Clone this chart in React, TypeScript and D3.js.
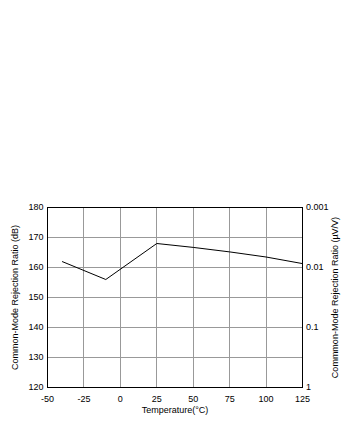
import React from "react";
import * as d3 from "d3";

const temps = [-40, -10, 25, 50, 75, 100, 125];
const cmrrDb = [162, 156, 168, 166.7, 165.2, 163.5, 161.3];
const xTicks = [-50, -25, 0, 25, 50, 75, 100, 125];
const yTicks = [120, 130, 140, 150, 160, 170, 180];
const rightTicks = [1, 0.1, 0.01, 0.001];
const rightTickLabels = ["1", "0.1", "0.01", "0.001"];

export default function App() {
  const W = 360, H = 428;
  const left = 47.5, right = 302.5, top = 207.5, bottom = 387.5;
  const x = d3.scaleLinear().domain([-50, 125]).range([left, right]);
  const y = d3.scaleLinear().domain([120, 180]).range([bottom, top]);
  const yR = d3.scaleLog().domain([1, 0.001]).range([bottom, top]);
  const crisp = (v: number) => Math.round(v - 0.5) + 0.5;
  const line = d3.line<number>().x((_, i) => x(temps[i])).y((d) => y(d));
  const font = "'Liberation Sans', Arial, sans-serif";
  return (
    <svg width={W} height={H} style={{ position: "absolute", left: 0, top: 0 }} fontFamily={font} fontSize={9}>
      <rect x={0} y={0} width={W} height={H} fill="#fff" />
      {xTicks.slice(1, -1).map((t) => (
        <line key={"gx" + t} x1={crisp(x(t))} x2={crisp(x(t))} y1={top} y2={bottom} stroke="#999" strokeWidth={1} />
      ))}
      {yTicks.slice(1, -1).map((t) => (
        <line key={"gy" + t} x1={left} x2={right} y1={crisp(y(t))} y2={crisp(y(t))} stroke="#999" strokeWidth={1} />
      ))}
      <rect x={left} y={top} width={right - left} height={bottom - top} fill="none" stroke="#000" strokeWidth={1} />
      <path d={line(cmrrDb) || ""} fill="none" stroke="#000" strokeWidth={1} />
      {xTicks.map((t) => (
        <text key={"tx" + t} x={x(t)} y={402} textAnchor="middle" fill="#000">{t}</text>
      ))}
      {yTicks.map((t) => (
        <text key={"ty" + t} x={43.5} y={y(t)} textAnchor="end" dominantBaseline="middle" fill="#000">{t}</text>
      ))}
      {rightTicks.map((t, i) => (
        <text key={"tr" + t} x={306} y={yR(t)} textAnchor="start" dominantBaseline="middle" fill="#000">{rightTickLabels[i]}</text>
      ))}
      <text x={(left + right) / 2} y={413} textAnchor="middle" fill="#000">Temperature(°C)</text>
      <text transform={`translate(15.5,${(top + bottom) / 2}) rotate(-90)`} textAnchor="middle" dominantBaseline="middle" fill="#000">Common-Mode Rejection Ratio (dB)</text>
      <text transform={`translate(336,${(top + bottom) / 2}) rotate(-90)`} textAnchor="middle" dominantBaseline="middle" fill="#000">Commmon-Mode Rejection Ratio (µV/V)</text>
    </svg>
  );
}
